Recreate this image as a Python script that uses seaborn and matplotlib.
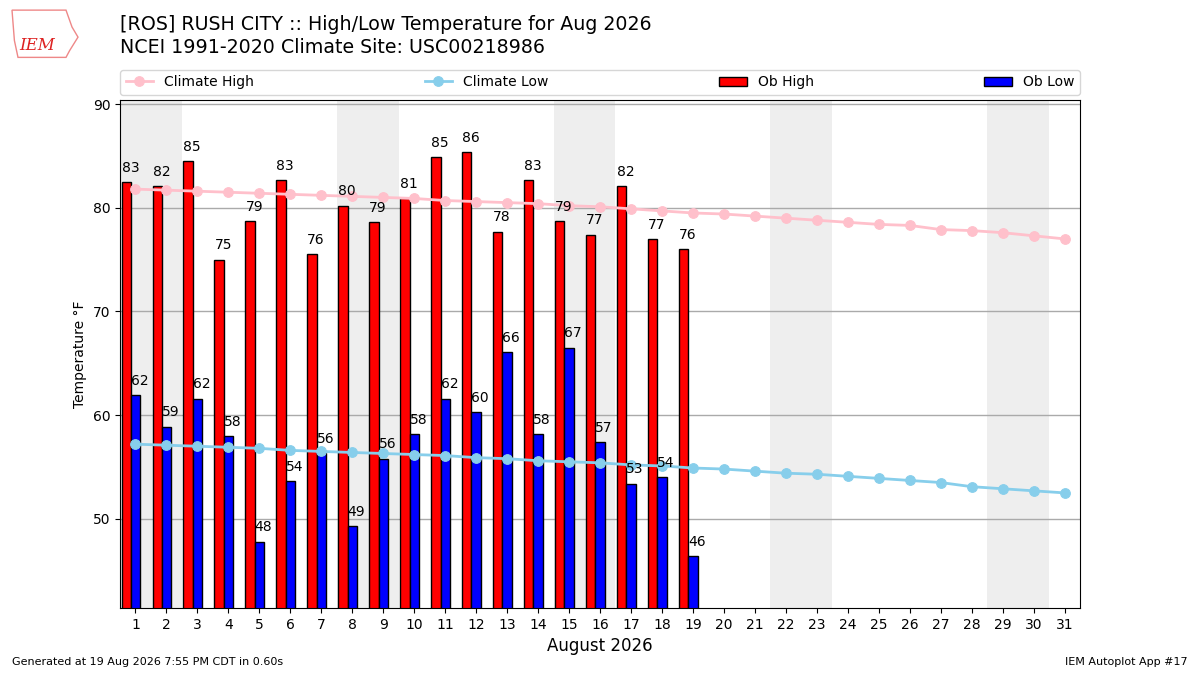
import matplotlib
matplotlib.use("Agg")
import matplotlib.pyplot as plt
from matplotlib.patches import Polygon
import seaborn as sns
import numpy as np

# observed daily values (Aug 1 - 19)
ob_days = list(range(1, 20))
ob_high = [82.5, 82.1, 84.5, 75.0, 78.7, 82.7, 75.5, 80.2, 78.6, 80.9,
           84.9, 85.4, 77.7, 82.7, 78.7, 77.4, 82.1, 77.0, 76.0]
ob_low = [61.9, 58.9, 61.6, 58.0, 47.8, 53.6, 56.3, 49.3, 55.8, 58.2,
          61.6, 60.3, 66.1, 58.2, 66.5, 57.4, 53.4, 54.0, 46.4]
high_labels = [83, 82, 85, 75, 79, 83, 76, 80, 79, 81,
               85, 86, 78, 83, 79, 77, 82, 77, 76]
low_labels = [62, 59, 62, 58, 48, 54, 56, 49, 56, 58,
              62, 60, 66, 58, 67, 57, 53, 54, 46]

# climatology (whole month)
clim_days = list(range(1, 32))
clim_high = [81.8, 81.7, 81.6, 81.5, 81.4, 81.3, 81.2, 81.1, 81.0, 80.9,
             80.7, 80.6, 80.5, 80.4, 80.2, 80.1, 79.9, 79.7, 79.5, 79.4,
             79.2, 79.0, 78.8, 78.6, 78.4, 78.3, 77.9, 77.8, 77.6, 77.3, 77.0]
clim_low = [57.2, 57.1, 57.0, 56.9, 56.8, 56.6, 56.5, 56.4, 56.3, 56.2,
            56.1, 55.9, 55.8, 55.6, 55.5, 55.4, 55.2, 55.1, 54.9, 54.8,
            54.6, 54.4, 54.3, 54.1, 53.9, 53.7, 53.5, 53.1, 52.9, 52.7, 52.5]

weekends = [(0.5, 2.5), (7.5, 9.5), (14.5, 16.5), (21.5, 23.5), (28.5, 30.5)]

fig = plt.figure(figsize=(12, 6.75), dpi=100)
ax = fig.add_axes([0.1, 0.0993, 0.8, 0.7526])

for a, b in weekends:
    ax.axvspan(a, b, color="#eeeeee", zorder=0, lw=0)

days = np.array(ob_days)
bw = 0.3
ax.bar(days - bw, ob_high, width=bw, color="r", edgecolor="k",
       label="Ob High", zorder=2)
ax.bar(days, ob_low, width=bw, color="b", edgecolor="k",
       label="Ob Low", zorder=2)

for d, v, t in zip(days, ob_high, high_labels):
    ax.text(d - 1.5 * bw, v + 0.7, str(t), ha="left", va="bottom", fontsize=10, zorder=4)
for d, v, t in zip(days, ob_low, low_labels):
    ax.text(d - 0.5 * bw, v + 0.7, str(t), ha="left", va="bottom", fontsize=10, zorder=4)

sns.lineplot(x=clim_days, y=clim_high, marker="o", color="pink", markersize=7,
             markeredgecolor="pink", lw=2, ax=ax, label="Climate High", zorder=3)
sns.lineplot(x=clim_days, y=clim_low, marker="o", color="skyblue", markersize=7,
             markeredgecolor="skyblue", lw=2, ax=ax, label="Climate Low", zorder=3)

ax.set_xlim(0.5, 31.5)
ax.set_ylim(min(ob_low) - 5, max(ob_high) + 5)
ax.set_xticks(clim_days)
ax.set_yticks([50, 60, 70, 80, 90])
ax.grid(axis="y", color="#aaaaaa", lw=1, zorder=1)
ax.set_axisbelow(True)
ax.set_xlabel("August 2026", fontsize=12)
ax.set_ylabel("Temperature °F")

handles, labels = ax.get_legend_handles_labels()
order = [labels.index(n) for n in ["Climate High", "Climate Low", "Ob High", "Ob Low"]]
ax.legend([handles[i] for i in order], [labels[i] for i in order],
          loc="lower left", bbox_to_anchor=(0, 1.01, 1, 0.05), mode="expand",
          ncol=4, borderaxespad=0, fontsize=10)

fig.text(0.1, 0.964, "[ROS] RUSH CITY :: High/Low Temperature for Aug 2026",
         fontsize=13.7, va="center")
fig.text(0.1, 0.929, "NCEI 1991-2020 Climate Site: USC00218986",
         fontsize=13.7, va="center")

# rough logo
outline = Polygon([(0.010, 0.985), (0.055, 0.985), (0.060, 0.960), (0.065, 0.945),
                   (0.058, 0.925), (0.055, 0.915), (0.015, 0.915), (0.012, 0.940)],
                  closed=True, fill=False, edgecolor="#e88", lw=1,
                  transform=fig.transFigure)
fig.add_artist(outline)
fig.text(0.031, 0.933, "IEM", color="#d22", fontsize=12, family="serif",
         style="italic", ha="center", va="center")
fig.text(0.01, 0.015, "Generated at 19 Aug 2026 7:55 PM CDT in 0.60s", fontsize=8)
fig.text(0.99, 0.015, "IEM Autoplot App #17", fontsize=8, ha="right")

fig.savefig("out.png", dpi=100)
